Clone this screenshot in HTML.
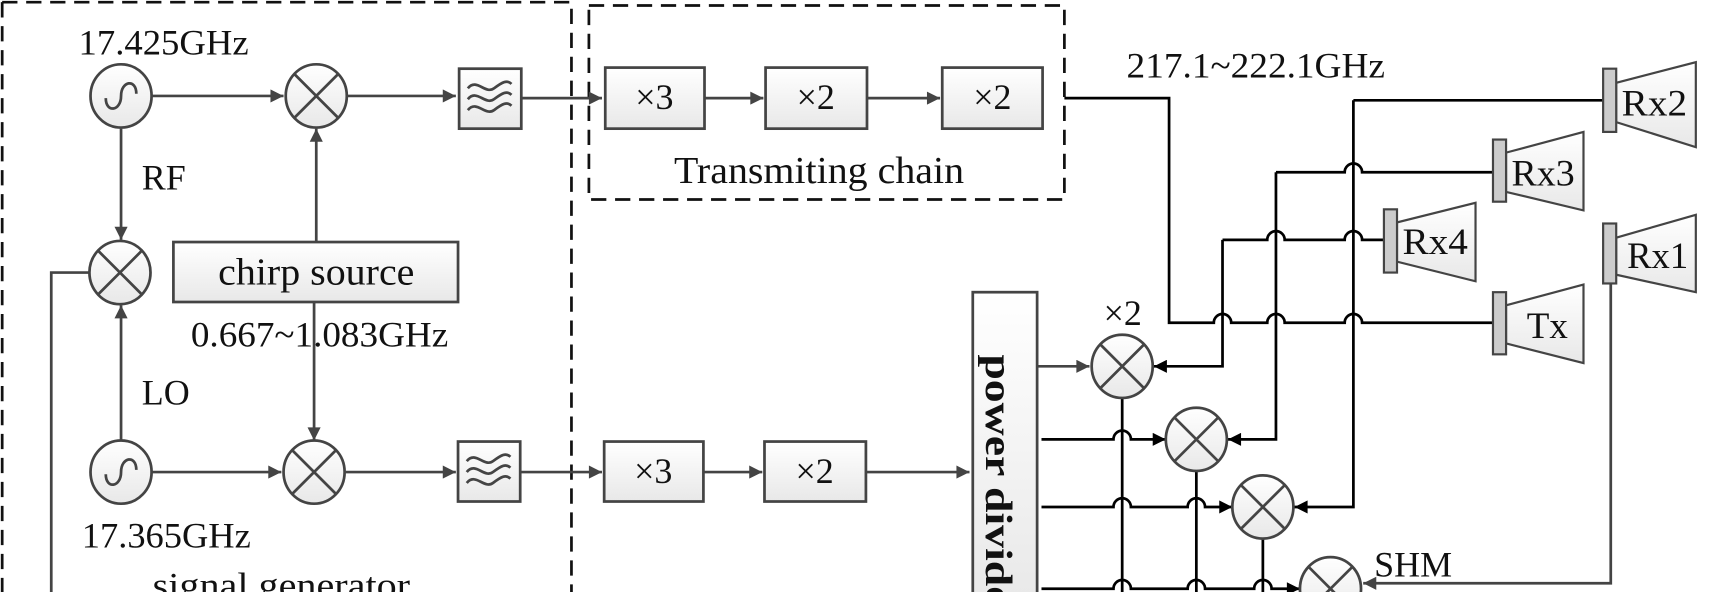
<!DOCTYPE html>
<html><head><meta charset="utf-8"><style>
html,body{margin:0;padding:0;background:#fff;width:1710px;height:592px;overflow:hidden}
svg{display:block}
text{font-family:"Liberation Serif",serif;fill:#111}
</style></head><body>
<svg width="1710" height="592" viewBox="0 0 1568 543" preserveAspectRatio="none" xmlns="http://www.w3.org/2000/svg">
<defs>
<linearGradient id="g" x1="0" y1="0" x2="0" y2="1"><stop offset="0" stop-color="#fff"/><stop offset="1" stop-color="#e8e8e8"/></linearGradient>
<marker id="a" viewBox="0 0 10 10" refX="10" refY="5" markerWidth="15" markerHeight="12" markerUnits="userSpaceOnUse" orient="auto"><path d="M0,0L10,5L0,10z" fill="#444"/></marker>
<marker id="b" viewBox="0 0 10 10" refX="10" refY="5" markerWidth="15" markerHeight="12" markerUnits="userSpaceOnUse" orient="auto"><path d="M0,0L10,5L0,10z" fill="#000"/></marker>
<g id="mix"><ellipse cx="0" cy="0" rx="28" ry="29" fill="url(#g)" stroke="#444" stroke-width="2.5"/><path d="M-20,-20L20,20M20,-20L-20,20" stroke="#444" stroke-width="2.5"/></g>
<g id="osc"><ellipse cx="0" cy="0" rx="28" ry="29" fill="url(#g)" stroke="#444" stroke-width="2.5"/><path d="M-14,2C-14,16 0,14 0,0C0,-14 14,-16 14,-2" fill="none" stroke="#444" stroke-width="2.5"/></g>
<g id="flt"><rect x="0" y="0" width="57" height="55" fill="url(#g)" stroke="#444" stroke-width="2.5"/><path d="M8,18c8,-10 16,6 24,0s12,-8 16,-4M8,28c8,-10 16,6 24,0s12,-8 16,-4M8,38c8,-10 16,6 24,0s12,-8 16,-4" fill="none" stroke="#444" stroke-width="2.5"/></g>
</defs>
<g fill="none" stroke="#111" stroke-width="2.5" stroke-dasharray="14,8">
<path d="M2,2H524V543M2,2V543"/>
<rect x="540" y="5" width="436" height="178"/>
</g>
<g stroke="#444" stroke-width="2.5" fill="none">
<path d="M139,88H260" marker-end="url(#a)"/>
<path d="M319,88H418" marker-end="url(#a)"/>
<path d="M478,90H552" marker-end="url(#a)"/>
<path d="M646,90H700" marker-end="url(#a)"/>
<path d="M795,90H862" marker-end="url(#a)"/>
<path d="M111,118V220" marker-end="url(#a)"/>
<path d="M111,404V280" marker-end="url(#a)"/>
<path d="M290,222V118" marker-end="url(#a)"/>
<path d="M288,277V404" marker-end="url(#a)"/>
<path d="M139,433H258" marker-end="url(#a)"/>
<path d="M317,433H418" marker-end="url(#a)"/>
<path d="M477,433H552" marker-end="url(#a)"/>
<path d="M645,433H699" marker-end="url(#a)"/>
<path d="M794,433H889" marker-end="url(#a)"/>
<path d="M82,250H47V543"/>
<path d="M951,336H999" marker-end="url(#a)"/>
</g>
<use href="#osc" x="111" y="88"/><use href="#osc" x="111" y="433"/>
<use href="#mix" x="290" y="88"/><use href="#mix" x="110" y="250"/><use href="#mix" x="288" y="433"/>
<use href="#flt" x="421" y="63"/><use href="#flt" x="420" y="405"/>
<g fill="url(#g)" stroke="#444" stroke-width="2.5">
<rect x="555" y="62" width="91" height="56"/><rect x="702" y="62" width="93" height="56"/><rect x="864" y="62" width="92" height="56"/>
<rect x="554" y="405" width="91" height="55"/><rect x="701" y="405" width="93" height="55"/>
<rect x="159" y="222" width="261" height="55"/>
<rect x="892" y="268" width="59" height="290"/>
</g>
<g font-size="33">
<text x="72" y="50" textLength="156" lengthAdjust="spacingAndGlyphs">17.425GHz</text>
<text x="130" y="174">RF</text>
<text x="130" y="371">LO</text>
<text x="75" y="502" textLength="155" lengthAdjust="spacingAndGlyphs">17.365GHz</text>
<text x="140" y="548" textLength="236" lengthAdjust="spacingAndGlyphs">signal generator</text>
<text x="175" y="318" textLength="236" lengthAdjust="spacingAndGlyphs">0.667~1.083GHz</text>
<text x="200" y="261" font-size="35" textLength="180" lengthAdjust="spacingAndGlyphs">chirp source</text>
<text x="600" y="100" text-anchor="middle">×3</text>
<text x="748" y="100" text-anchor="middle">×2</text>
<text x="910" y="100" text-anchor="middle">×2</text>
<text x="599" y="443" text-anchor="middle">×3</text>
<text x="747" y="443" text-anchor="middle">×2</text>
<text x="618" y="168" font-size="35" textLength="266" lengthAdjust="spacingAndGlyphs">Transmiting chain</text>
<text x="1033" y="71" textLength="237" lengthAdjust="spacingAndGlyphs">217.1~222.1GHz</text>
<text x="1012" y="298">×2</text>
<text x="1260" y="529">SHM</text>
<text transform="translate(904,325) rotate(90)" font-size="35" font-weight="bold" textLength="250" lengthAdjust="spacingAndGlyphs">power divider</text>
</g>
<g stroke="#000" stroke-width="2.5" fill="none">
<path d="M976,90H1072V296H1113a8,8 0 0 1 16,0H1162a8,8 0 0 1 16,0H1233a8,8 0 0 1 16,0H1370"/>
<path d="M1241,92H1470"/>
<path d="M1170,158H1233a8,8 0 0 1 16,0H1370"/>
<path d="M1121,220H1162a8,8 0 0 1 16,0H1233a8,8 0 0 1 16,0H1270"/>
<path d="M1121,220V336H1058" marker-end="url(#b)"/>
<path d="M1170,158V403H1126" marker-end="url(#b)"/>
<path d="M1241,92V465H1187" marker-end="url(#b)"/>
<path d="M955,403H1021a8,8 0 0 1 16,0H1069" marker-end="url(#b)"/>
<path d="M955,465H1021a8,8 0 0 1 16,0H1089a8,8 0 0 1 16,0H1130" marker-end="url(#b)"/>
<path d="M955,540H1021a8,8 0 0 1 16,0H1089a8,8 0 0 1 16,0H1150a8,8 0 0 1 16,0H1192" marker-end="url(#b)"/>
<path d="M1029,366V543M1097,432V543M1158,494V543"/>
<path d="M1477,260V535H1250" stroke="#444" marker-end="url(#a)"/>
</g>
<use href="#mix" x="1029" y="336"/><use href="#mix" x="1097" y="403"/><use href="#mix" x="1158" y="465"/><use href="#mix" x="1220" y="540"/>
<g stroke="#444" stroke-width="2">
<path d="M1482,76L1555,57V135L1482,112Z" fill="url(#g)"/><rect x="1470" y="63" width="12" height="58" fill="#ccc"/>
<path d="M1381,140L1452,121V193L1381,176Z" fill="url(#g)"/><rect x="1369" y="128" width="12" height="57" fill="#ccc"/>
<path d="M1281,204L1353,186V258L1281,240Z" fill="url(#g)"/><rect x="1269" y="192" width="12" height="58" fill="#ccc"/>
<path d="M1482,218L1555,197V268L1482,252Z" fill="url(#g)"/><rect x="1470" y="205" width="12" height="55" fill="#ccc"/>
<path d="M1381,280L1452,261V333L1381,315Z" fill="url(#g)"/><rect x="1369" y="268" width="12" height="57" fill="#ccc"/>
</g>
<g font-size="34">
<text x="1487" y="106" textLength="60" lengthAdjust="spacingAndGlyphs">Rx2</text>
<text x="1386" y="170" textLength="58" lengthAdjust="spacingAndGlyphs">Rx3</text>
<text x="1286" y="233" textLength="60" lengthAdjust="spacingAndGlyphs">Rx4</text>
<text x="1492" y="246" textLength="56" lengthAdjust="spacingAndGlyphs">Rx1</text>
<text x="1400" y="310">Tx</text>
</g>
</svg>
</body></html>
